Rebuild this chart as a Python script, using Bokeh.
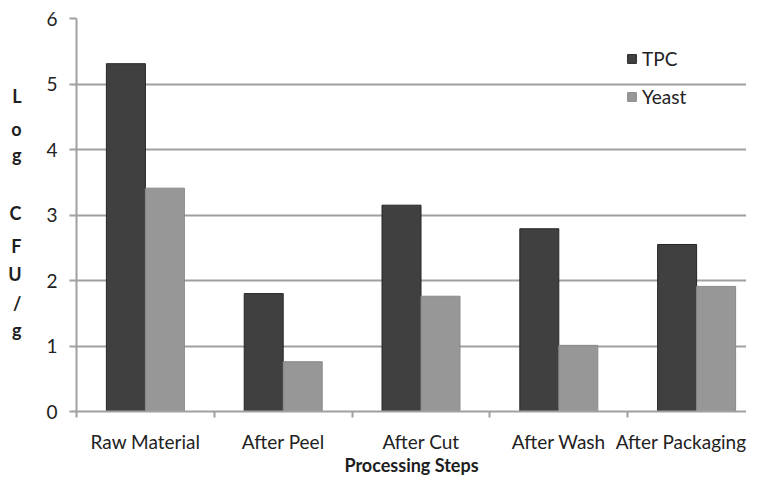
from bokeh.plotting import figure
from bokeh.models import Range1d, FixedTicker, Legend, LegendItem, LinearAxis
from bokeh.embed import file_html
from bokeh.resources import INLINE

categories = ["Raw Material", "After Peel", "After Cut", "After Wash", "After Packaging"]
tpc = [5.31, 1.80, 3.15, 2.79, 2.55]
yeast = [3.41, 0.76, 1.76, 1.01, 1.91]
y_ticks = [0, 1, 2, 3, 4, 5, 6]
y_title_letters = ["L", "o", "g", "C", "F", "U", "/", "g"]
# vertical positions (in y data units) of the stacked y-title letters
y_title_pos = [4.817, 4.313, 3.916, 3.031, 2.527, 2.099, 1.656, 1.244]
x_title = "Processing Steps"

FONT = "Lato"
GRAY = "#a0a0a0"
TEXT = "#222222"

p = figure(width=746, height=478, output_backend="svg", toolbar_location=None,
           x_range=Range1d(-0.5, 4.362), y_range=Range1d(0, 6),
           min_border_left=76, min_border_right=0, min_border_top=18, min_border_bottom=67)
p.outline_line_color = None
p.background_fill_color = "white"
p.border_fill_color = "white"

xs = list(range(len(categories)))
bw = 0.283
r1 = p.vbar(x=[x - bw / 2 for x in xs], top=tpc, width=bw, bottom=0,
            fill_color="#404040", line_color="#262626", line_width=1)
r2 = p.vbar(x=[x + bw / 2 for x in xs], top=yeast, width=bw, bottom=0,
            fill_color="#979797", line_color="#8a8a8a", line_width=1)

# x axis
xa = p.xaxis[0]
xa.ticker = FixedTicker(ticks=xs, minor_ticks=[x - 0.5 for x in xs])
xa.major_label_overrides = {i: c for i, c in enumerate(categories)}
xa.major_tick_line_color = None
xa.major_tick_out = 0
xa.major_tick_in = 0
xa.minor_tick_line_color = GRAY
xa.minor_tick_line_width = 2
xa.minor_tick_out = 6
xa.minor_tick_in = 0
xa.axis_line_color = GRAY
xa.axis_line_width = 2
xa.major_label_text_font = FONT
xa.major_label_text_font_size = "19px"
xa.major_label_text_color = TEXT
xa.major_label_standoff = 12
xa.axis_label = x_title
xa.axis_label_text_font = FONT
xa.axis_label_text_font_size = "18px"
xa.axis_label_text_font_style = "bold"
xa.axis_label_text_color = "#1e1e1e"
xa.axis_label_standoff = -2

# y axis
ya = p.yaxis[0]
ya.ticker = FixedTicker(ticks=y_ticks)
ya.minor_tick_line_color = None
ya.major_tick_line_color = GRAY
ya.major_tick_line_width = 2
ya.major_tick_out = 7
ya.major_tick_in = 0
ya.axis_line_color = GRAY
ya.axis_line_width = 2
ya.major_label_text_font = FONT
ya.major_label_text_font_size = "19px"
ya.major_label_text_color = TEXT
ya.major_label_text_align = "right"
ya.major_label_standoff = 12

# stacked y-axis title drawn as the labels of an outer, line-less axis
ta = LinearAxis(ticker=FixedTicker(ticks=y_title_pos),
                major_label_overrides={v: s for v, s in zip(y_title_pos, y_title_letters)})
ta.axis_line_color = None
ta.major_tick_line_color = None
ta.minor_tick_line_color = None
ta.major_tick_out = 0
ta.major_tick_in = 0
ta.major_label_standoff = 22
ta.major_label_text_font = FONT
ta.major_label_text_font_size = "18px"
ta.major_label_text_font_style = "bold"
ta.major_label_text_color = "#1e1e1e"
ta.major_label_text_align = "center"
p.add_layout(ta, "left")

p.xgrid.grid_line_color = None
p.ygrid.grid_line_color = GRAY
p.ygrid.grid_line_width = 2
p.ygrid.ticker = FixedTicker(ticks=y_ticks[1:])

legend = Legend(items=[LegendItem(label="TPC", renderers=[r1]),
                       LegendItem(label="Yeast", renderers=[r2])],
                location=(550, 303))
legend.glyph_width = 11
legend.glyph_height = 11
legend.label_height = 24
legend.spacing = 14
legend.padding = 0
legend.margin = 0
legend.label_standoff = 5
legend.border_line_color = None
legend.background_fill_alpha = 0
legend.label_text_font = FONT
legend.label_text_font_size = "19px"
legend.label_text_color = TEXT
p.add_layout(legend)

open("out.html", "w").write(file_html(p, INLINE))
